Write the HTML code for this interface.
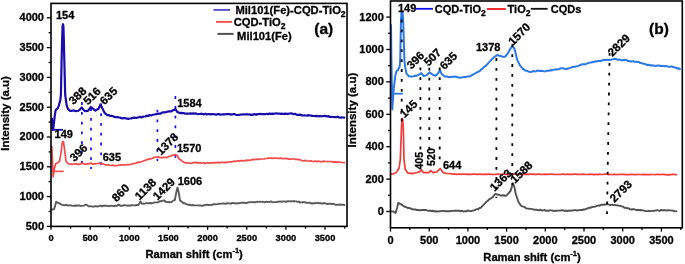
<!DOCTYPE html>
<html><head><meta charset="utf-8"><style>
html,body{margin:0;padding:0;background:#fff;width:685px;height:264px;overflow:hidden}
svg{display:block;will-change:transform}
</style></head><body>
<svg width="685" height="264" viewBox="0 0 685 264" font-family='"Liberation Sans", sans-serif' font-weight="bold" fill="#000">
<rect width="685" height="264" fill="#fff"/>
<line x1="81.90" y1="102.10" x2="81.90" y2="164.00" stroke="#1010f8" stroke-width="1.7" stroke-dasharray="2.8 7.0"/>
<line x1="91.00" y1="108.20" x2="91.00" y2="169.00" stroke="#1010f8" stroke-width="1.7" stroke-dasharray="2.8 7.0"/>
<line x1="101.10" y1="103.40" x2="101.10" y2="166.00" stroke="#1010f8" stroke-width="1.7" stroke-dasharray="2.8 7.0"/>
<line x1="157.40" y1="109.70" x2="157.40" y2="161.00" stroke="#1010f8" stroke-width="1.7" stroke-dasharray="2.8 7.0"/>
<line x1="175.40" y1="96.10" x2="175.40" y2="158.00" stroke="#1010f8" stroke-width="1.7" stroke-dasharray="2.8 7.0"/>
<polyline points="51.4,209.8 52.7,209.4 54.0,209.3 55.2,205.6 56.2,201.8 58.2,203.0 59.9,203.5 61.6,204.7 63.3,205.1 65.0,205.2 66.4,204.9 67.9,205.5 69.3,205.4 70.7,205.3 72.2,205.8 73.6,205.9 75.0,205.5 76.4,205.8 77.8,205.5 79.3,205.5 80.7,205.8 82.1,205.9 83.9,205.6 85.8,204.7 87.3,205.2 88.9,206.4 90.4,206.1 91.8,206.4 93.3,206.7 94.7,206.3 96.2,206.1 97.6,206.6 99.1,206.1 100.5,205.7 101.8,206.4 103.2,205.8 104.5,205.7 105.9,205.6 107.3,205.8 108.6,206.2 110.0,205.9 111.4,205.6 112.8,205.9 114.1,206.0 115.5,205.7 116.9,205.8 118.6,204.6 120.4,205.8 121.9,205.8 123.3,205.3 124.8,205.3 126.2,205.4 127.7,205.7 129.1,205.5 130.6,205.5 132.1,205.2 133.7,205.4 135.2,205.2 136.8,204.9 138.3,205.0 140.5,201.6 141.7,203.6 143.2,203.8 144.6,203.6 146.1,203.1 147.6,203.3 149.0,203.2 150.5,203.0 151.9,203.2 153.3,202.9 154.8,202.4 156.2,202.4 157.9,202.4 159.6,201.3 161.3,201.2 163.8,200.4 166.4,202.1 168.1,202.0 169.8,202.3 171.5,202.1 173.2,200.6 174.9,199.8 176.3,192.2 177.5,187.6 178.7,192.2 180.0,200.4 181.8,201.8 183.5,203.3 184.9,203.2 186.2,204.1 187.6,204.6 188.9,204.7 190.3,205.0 191.7,205.4 193.1,205.0 194.5,205.4 195.8,205.4 197.2,205.4 198.6,205.4 200.0,205.5 201.4,205.7 202.7,205.7 204.1,205.2 205.4,205.2 206.8,204.6 208.1,205.0 209.5,204.9 210.8,205.1 212.2,204.8 213.5,204.2 214.9,204.2 216.2,204.4 217.6,204.1 218.9,203.6 220.3,203.9 221.6,203.6 222.9,203.5 224.2,203.4 225.6,203.9 226.9,203.3 228.2,203.3 229.6,203.4 230.9,203.7 232.2,202.9 233.6,203.2 234.9,203.2 236.2,203.5 237.5,203.3 238.9,203.3 240.2,202.9 241.5,202.6 242.9,202.7 244.2,202.6 245.5,203.0 246.9,203.0 248.2,202.2 249.5,202.2 250.9,202.1 252.2,202.1 253.6,202.2 254.9,202.3 256.2,201.9 257.6,201.6 258.9,201.9 260.2,201.8 261.6,201.9 262.9,201.8 264.2,202.2 265.6,202.0 266.9,201.8 268.2,201.9 269.5,202.0 270.9,201.4 272.2,202.2 273.5,202.1 274.9,202.1 276.2,202.1 277.5,201.7 278.9,201.7 280.2,201.4 281.5,201.9 282.8,201.4 284.2,201.4 285.5,201.8 286.9,201.5 288.2,201.3 289.6,201.4 290.9,201.1 292.3,201.4 293.6,201.1 294.9,201.3 296.2,201.4 297.6,201.8 298.9,201.6 300.2,202.5 301.5,202.4 302.8,202.1 304.2,202.3 305.5,202.5 306.8,202.7 308.1,202.9 309.5,202.6 310.9,203.3 312.3,203.5 313.7,203.1 315.1,203.2 316.5,202.9 317.8,202.9 319.2,203.2 320.6,203.2 322.0,203.7 323.4,203.2 324.8,203.1 326.2,203.6 327.6,204.1 329.0,203.8 330.4,203.6 331.8,204.1 333.2,203.7 334.6,204.3 335.9,204.8 337.3,204.8 338.7,204.7 340.1,204.5 341.5,204.7 342.9,204.6 344.3,205.0" fill="none" stroke="#5a5a5a" stroke-width="1.9" stroke-linejoin="round" stroke-linecap="round" />
<polyline points="51.8,146.5 53.2,177.0 54.3,168.8 55.8,163.5 58.1,162.7 59.6,161.2 61.1,152.1 62.2,143.0 62.8,141.3 63.5,142.0 64.5,149.1 66.0,161.2 68.0,163.5 69.0,163.9 70.5,164.2 71.9,164.0 73.4,164.3 74.9,163.9 76.3,163.9 77.8,164.4 79.2,164.2 80.8,164.1 82.4,163.1 84.0,164.0 85.5,164.2 86.8,164.2 88.1,163.9 89.4,163.6 90.7,163.1 92.8,164.2 94.1,163.8 95.4,163.9 96.7,163.5 98.0,163.5 99.6,163.0 101.1,163.8 102.6,163.8 104.2,164.2 105.7,165.0 107.1,164.8 108.4,164.8 109.8,165.3 111.2,165.5 112.5,165.1 113.9,165.6 115.3,165.7 116.6,165.7 118.0,165.3 119.5,165.1 121.1,164.9 122.6,164.9 124.2,164.8 125.7,165.0 127.0,164.5 128.3,164.6 129.6,164.6 131.0,164.3 132.3,163.8 133.6,163.7 134.9,163.3 136.2,163.2 137.5,162.2 138.8,162.3 140.2,162.2 141.5,161.7 142.8,161.3 144.1,160.7 145.4,160.2 146.7,159.5 148.0,159.6 149.4,158.8 150.7,158.8 152.0,158.5 153.3,157.6 154.8,157.3 156.4,157.0 157.9,156.9 159.4,157.5 161.0,157.6 162.5,157.6 164.0,157.3 165.6,157.3 167.1,157.6 168.6,156.5 170.2,156.4 171.7,155.3 173.2,155.2 174.8,154.6 177.0,155.3 179.4,159.2 180.9,159.9 182.5,161.5 184.0,162.2 185.5,162.9 187.1,162.9 188.6,162.9 190.1,163.3 191.7,163.1 193.4,162.5 195.0,162.6 196.4,162.2 197.7,163.1 199.1,162.9 200.4,162.8 201.8,163.2 203.2,162.8 204.5,163.3 205.9,163.3 207.2,162.8 208.6,163.1 210.0,162.8 211.3,162.8 212.7,162.6 214.0,162.9 215.4,162.5 216.7,162.6 218.1,162.3 219.4,162.9 220.8,162.3 222.1,162.3 223.5,162.4 224.8,162.6 226.2,162.1 227.5,162.4 228.9,162.0 230.2,161.9 231.6,161.8 232.9,161.7 234.2,161.1 235.6,161.3 236.9,161.0 238.2,160.7 239.6,161.3 240.9,160.6 242.3,160.7 243.6,160.8 244.9,160.6 246.3,160.2 247.6,160.3 248.9,160.2 250.3,160.3 251.6,159.9 253.0,159.4 254.4,159.7 255.8,159.3 257.2,159.1 258.6,159.5 260.0,159.1 261.3,159.0 262.7,159.0 264.1,159.0 265.5,158.5 266.9,158.5 268.3,158.2 269.7,158.1 271.1,158.1 272.5,158.3 273.9,158.1 275.4,158.1 276.8,158.1 278.2,158.5 279.6,158.3 281.0,158.1 282.5,158.6 284.0,158.7 285.5,158.2 287.0,158.6 288.5,159.1 290.0,158.8 291.4,159.3 292.8,158.8 294.2,159.0 295.6,159.4 297.0,159.3 298.4,159.6 299.7,159.6 301.1,160.3 302.5,160.6 303.9,160.8 305.3,160.4 306.7,161.0 308.1,161.0 309.5,161.2 310.9,160.8 312.3,161.5 313.7,161.6 315.1,160.9 316.5,161.6 317.8,161.2 319.2,161.3 320.6,161.8 322.0,161.7 323.4,161.1 324.8,161.4 326.2,161.5 327.6,161.6 329.0,161.5 330.4,161.5 331.8,161.7 333.2,162.1 334.6,161.6 335.9,162.1 337.3,162.1 338.7,161.8 340.1,162.2 341.5,162.5 342.9,162.5 344.3,162.6" fill="none" stroke="#f24a4a" stroke-width="1.7" stroke-linejoin="round" stroke-linecap="round" />
<line x1="52.00" y1="171.40" x2="63.80" y2="171.40" stroke="#f24a4a" stroke-width="1.6" />
<polyline points="51.9,118.6 52.4,129.5 53.2,129.5 54.6,117.2 55.4,111.3 56.3,109.3 57.6,108.6 58.9,105.3 60.3,100.0 60.9,95.0 61.6,60.0 62.2,38.0 62.6,26.0 63.0,24.2 63.4,26.0 63.8,38.0 64.3,60.0 65.2,95.0 66.7,105.6 68.2,109.4 70.5,111.0 71.6,111.0 72.9,110.4 74.3,110.6 75.6,111.2 76.9,111.0 78.2,110.7 79.6,109.9 81.6,107.5 83.6,109.9 84.9,111.0 86.2,111.2 88.2,110.6 90.9,107.0 92.9,108.6 95.5,110.6 96.8,109.5 98.2,109.2 100.5,104.4 102.8,109.2 104.8,113.2 106.1,114.0 107.4,115.2 108.7,115.0 110.1,115.9 111.4,115.9 113.2,116.3 115.0,117.2 116.8,117.0 118.5,117.4 119.9,117.5 121.3,118.2 122.8,118.3 124.2,118.0 125.6,118.2 127.0,118.7 128.4,118.9 129.9,118.5 131.3,118.5 132.7,117.8 134.2,117.6 135.6,117.9 137.0,117.8 138.4,117.4 139.8,116.8 141.3,117.4 142.7,116.9 144.1,116.5 145.5,116.5 146.9,115.6 148.3,116.0 149.8,115.0 151.2,115.4 152.6,114.8 154.3,114.5 156.0,114.1 157.7,114.0 159.1,113.7 160.4,113.7 161.8,112.8 163.1,112.3 164.5,112.3 165.9,112.1 167.3,111.7 168.6,111.4 170.0,111.3 171.4,111.4 173.1,110.1 174.8,109.7 175.3,108.8 177.3,111.9 179.9,113.1 181.3,112.9 182.6,113.1 184.0,113.2 185.3,113.7 186.7,113.6 188.0,113.5 189.4,113.7 190.7,113.4 192.0,113.6 193.3,113.4 194.7,113.6 196.0,113.4 197.3,114.1 198.7,114.0 200.0,114.0 201.4,113.7 202.7,114.0 204.1,114.4 205.4,113.7 206.8,114.4 208.1,114.0 209.5,114.1 210.8,114.4 212.2,114.0 213.5,114.2 214.9,114.3 216.2,114.6 217.6,114.2 218.9,114.1 220.3,114.6 221.6,114.5 222.9,114.4 224.2,114.3 225.6,114.2 226.9,114.0 228.2,114.1 229.6,114.1 230.9,114.7 232.2,114.3 233.6,114.2 234.9,114.2 236.2,114.9 237.5,115.0 238.9,114.8 240.2,114.7 241.5,114.5 242.9,114.4 244.2,114.4 245.5,114.5 246.9,114.2 248.2,114.5 249.5,114.3 250.9,114.9 252.2,114.9 253.6,114.4 254.9,114.1 256.2,114.8 257.6,114.1 258.9,114.2 260.2,113.8 261.6,114.1 262.9,114.2 264.2,114.1 265.6,114.1 266.9,113.8 268.2,114.1 269.5,113.6 270.9,113.8 272.2,113.6 273.5,113.8 274.9,113.5 276.2,113.4 277.5,113.6 278.9,113.5 280.2,113.8 281.5,113.7 282.8,113.9 284.2,113.8 285.5,113.6 286.9,113.8 288.2,113.9 289.6,113.5 290.9,113.4 292.3,113.6 293.6,114.3 295.0,113.8 296.3,114.6 297.7,114.8 299.0,114.9 300.4,114.6 301.7,115.3 303.1,115.5 304.4,115.3 305.8,115.5 307.2,115.6 308.5,115.1 309.9,115.5 311.2,115.6 312.6,115.9 314.0,116.0 315.3,116.1 316.7,115.9 318.0,116.3 319.4,116.0 320.7,116.2 322.0,116.3 323.3,116.0 324.6,115.9 326.0,116.1 327.3,116.4 328.6,116.2 329.9,117.0 331.2,116.8 332.5,117.0 333.8,117.0 335.1,117.2 336.4,117.1 337.7,116.7 339.1,117.5 340.4,117.6 341.7,117.4 343.0,117.5 344.3,117.6" fill="none" stroke="#1a0ca8" stroke-width="2.2" stroke-linejoin="round" stroke-linecap="round" />
<line x1="52.00" y1="129.80" x2="63.00" y2="129.80" stroke="#1a0ca8" stroke-width="1.8" />
<polyline points="390.3,211.1 391.8,211.4 393.3,211.5 395.6,213.0 397.1,207.7 398.3,202.9 400.1,203.9 401.6,204.5 403.2,205.9 404.7,206.8 406.2,207.1 407.7,208.0 409.2,208.0 410.8,208.5 412.3,209.3 413.8,209.5 415.3,209.4 416.8,210.0 418.3,210.0 419.8,210.4 421.3,210.0 422.9,209.9 424.4,210.0 425.9,210.0 427.2,210.4 428.5,210.7 429.8,210.7 431.1,211.0 432.4,210.7 433.7,211.0 435.0,211.5 436.4,211.2 437.7,211.6 439.1,211.2 440.4,211.4 441.8,210.9 443.2,210.9 444.5,211.0 445.9,211.3 447.2,211.3 448.6,211.1 450.1,211.2 451.6,210.8 453.2,210.9 454.7,210.8 456.2,210.8 457.7,210.8 459.1,210.6 460.6,211.3 462.1,210.7 463.5,211.5 465.0,211.1 466.3,211.4 467.6,210.5 468.9,210.8 470.2,211.0 471.5,211.1 472.8,210.5 474.1,210.5 475.5,209.7 476.8,209.1 478.2,209.2 479.5,208.0 480.9,207.7 486.5,201.7 487.8,200.8 489.1,199.4 490.5,198.7 491.8,197.7 493.1,196.8 494.5,194.8 495.8,193.8 497.1,194.5 498.5,194.7 499.8,195.1 501.1,195.5 502.4,195.5 503.8,195.2 505.1,195.9 506.4,195.6 510.4,191.1 513.0,183.2 514.4,187.1 515.7,193.8 518.4,201.7 521.0,205.7 522.3,206.4 523.6,206.6 525.0,207.3 526.3,208.4 527.6,208.6 529.0,208.8 530.3,208.9 531.6,208.9 533.0,209.3 534.3,209.7 536.0,209.7 537.7,210.0 539.0,210.4 540.4,209.7 541.7,210.4 543.0,210.5 544.4,209.9 545.7,210.7 547.0,210.6 548.3,210.8 549.7,210.3 551.0,210.4 552.3,210.5 553.7,211.1 555.0,210.7 556.4,210.8 557.8,210.6 559.1,210.6 560.5,210.5 561.9,210.3 563.3,210.3 564.7,211.0 566.1,210.5 567.4,211.1 568.8,210.5 570.2,210.7 571.5,210.4 572.9,210.5 574.2,210.1 575.5,210.1 576.9,210.5 578.2,210.3 579.5,210.1 580.8,209.9 582.2,210.0 583.5,209.5 584.9,209.5 586.2,208.8 587.6,208.6 588.9,207.6 590.3,207.9 591.6,207.2 593.0,206.9 594.3,206.8 595.7,206.4 597.0,205.8 598.4,205.3 599.7,205.8 601.1,204.8 602.4,204.8 603.8,204.7 605.2,204.5 606.7,204.3 608.1,204.4 609.5,204.8 610.8,205.1 612.2,204.6 613.5,205.1 614.9,204.9 616.2,205.3 617.6,205.4 619.0,205.7 620.3,205.9 621.7,206.3 623.0,206.7 624.4,207.8 625.7,207.8 627.1,208.2 628.5,208.2 629.8,209.1 631.2,209.5 632.5,209.2 633.9,209.2 635.2,209.6 636.6,210.1 637.9,209.8 639.3,210.2 640.6,210.0 641.9,210.3 643.2,210.4 644.6,210.8 645.9,211.1 647.2,211.1 648.6,210.9 649.9,211.1 651.3,210.9 652.7,210.9 654.0,210.7 655.4,210.6 656.8,210.3 658.2,210.4 659.6,210.9 661.0,210.0 662.3,210.3 663.7,210.3 665.1,210.1 666.5,210.6 667.9,210.1 669.3,210.3 670.8,210.4 672.2,210.6 673.6,210.8 675.0,211.4 676.4,211.1" fill="none" stroke="#525252" stroke-width="1.9" stroke-linejoin="round" stroke-linecap="round" />
<polyline points="390.5,174.1 392.4,174.0 394.2,173.6 396.6,172.1 399.1,168.0 400.3,159.3 401.5,127.3 402.1,118.5 402.6,118.5 403.3,127.3 404.0,159.3 405.2,169.2 407.7,172.9 409.3,173.3 411.0,173.2 412.6,173.6 414.5,173.0 416.3,172.7 417.7,172.3 419.0,171.9 420.4,171.2 421.5,170.0 423.5,172.7 424.8,172.7 426.1,172.7 427.4,172.5 428.8,172.7 430.8,170.6 432.9,172.7 434.3,172.3 435.7,172.2 437.1,171.7 440.2,168.5 443.3,172.7 444.7,173.0 446.1,173.3 447.5,173.5 448.9,173.5 450.3,173.6 451.7,174.0 453.0,173.9 454.3,174.1 455.6,174.1 456.9,174.3 458.2,174.2 459.5,174.2 460.9,174.3 462.2,174.2 463.5,174.2 464.8,174.0 466.1,174.3 467.4,174.2 468.7,174.4 470.0,174.3 471.3,174.4 472.6,174.2 473.9,174.2 475.2,174.2 476.5,174.4 477.8,174.4 479.1,174.1 480.4,174.1 481.7,174.3 483.0,174.3 484.3,174.3 485.7,174.2 487.0,174.3 488.3,174.1 489.6,174.2 490.9,174.3 492.2,174.5 493.5,174.4 494.8,174.5 496.1,174.3 497.4,174.2 498.7,174.2 500.0,174.5 501.3,174.4 502.6,174.2 503.9,174.1 505.2,174.3 506.5,174.4 507.8,174.3 509.1,174.2 510.4,174.4 511.7,174.5 513.0,174.2 514.3,174.1 515.7,174.2 517.0,174.3 518.3,174.4 519.6,174.2 520.9,174.4 522.2,174.4 523.5,174.3 524.8,174.2 526.1,174.5 527.4,174.2 528.7,174.4 530.0,174.2 531.3,174.2 532.6,174.4 533.9,174.2 535.2,174.5 536.5,174.3 537.8,174.2 539.1,174.2 540.4,174.3 541.7,174.4 543.0,174.5 544.3,174.2 545.7,174.3 547.0,174.2 548.3,174.5 549.6,174.2 550.9,174.1 552.2,174.1 553.5,174.3 554.8,174.5 556.1,174.5 557.4,174.4 558.7,174.5 560.0,174.3 561.3,174.5 562.6,174.2 563.9,174.2 565.2,174.5 566.5,174.4 567.8,174.1 569.2,174.4 570.5,174.3 571.8,174.3 573.1,174.3 574.4,174.2 575.7,174.1 577.0,174.3 578.3,174.3 579.6,174.5 580.9,174.2 582.2,174.5 583.5,174.2 584.8,174.3 586.2,174.5 587.5,174.5 588.8,174.3 590.1,174.2 591.4,174.4 592.7,174.3 594.0,174.6 595.3,174.3 596.6,174.3 597.9,174.6 599.2,174.2 600.5,174.4 601.9,174.5 603.2,174.5 604.5,174.2 605.8,174.2 607.1,174.2 608.4,174.6 609.7,174.3 611.0,174.5 612.3,174.6 613.6,174.4 614.9,174.4 616.2,174.6 617.5,174.5 618.9,174.4 620.2,174.5 621.5,174.4 622.8,174.4 624.1,174.3 625.4,174.6 626.7,174.6 628.0,174.5 629.3,174.7 630.6,174.3 631.9,174.4 633.2,174.5 634.5,174.7 635.9,174.7 637.2,174.5 638.5,174.4 639.8,174.5 641.1,174.5 642.4,174.7 643.7,174.4 645.0,174.6 646.3,174.6 647.6,174.7 648.9,174.6 650.2,174.6 651.6,174.5 652.9,174.5 654.2,174.5 655.5,174.7 656.8,174.4 658.1,174.4 659.4,174.7 660.7,174.5 662.0,174.4 663.3,174.4 664.6,174.6 665.9,174.5 667.2,174.8 668.6,174.7 669.9,174.8 671.2,174.5 672.5,174.4 673.8,174.4 675.1,174.6 676.4,174.6" fill="none" stroke="#f23a3a" stroke-width="1.7" stroke-linejoin="round" stroke-linecap="round" />
<polyline points="391.0,25.0 391.4,60.0 392.3,109.5 393.7,89.0 395.4,75.3 396.6,71.0 397.9,70.2 399.6,66.8 400.2,60.0 400.6,40.0 401.0,20.0 401.5,11.8 402.5,11.8 403.2,20.0 403.8,40.0 404.4,60.0 405.1,66.8 406.5,73.6 409.0,76.2 410.4,76.5 411.8,76.5 413.5,76.2 415.2,75.7 416.9,75.7 418.3,74.8 419.8,74.1 421.2,73.1 423.7,76.0 425.4,75.6 427.1,74.8 429.7,72.3 431.0,73.5 432.3,74.3 434.0,75.3 435.7,75.7 438.2,73.1 439.9,70.2 441.7,74.1 443.4,75.5 445.1,76.6 446.8,76.4 448.5,77.2 450.2,77.1 451.9,76.7 453.6,76.8 455.3,76.6 457.0,76.9 458.7,77.6 460.4,77.8 461.7,77.4 463.0,77.2 464.3,77.0 465.6,77.1 467.3,76.4 469.0,76.6 470.7,75.8 472.4,75.0 474.1,73.9 475.8,73.2 477.5,72.0 479.2,71.4 480.9,69.8 482.6,68.4 484.3,66.8 486.0,65.6 491.1,60.1 494.5,56.7 495.8,56.1 497.1,55.0 499.6,55.7 501.3,56.3 503.0,56.7 504.3,56.9 505.6,56.2 508.1,52.8 509.5,50.2 510.7,48.3 511.7,47.3 512.6,47.0 513.5,47.4 514.4,48.6 515.4,52.0 517.0,59.4 520.1,65.6 522.7,68.6 525.3,70.6 526.6,70.7 528.0,71.5 529.3,71.7 530.6,71.9 532.0,71.7 533.3,71.0 534.6,71.3 535.9,71.4 537.3,70.6 538.6,70.8 539.9,71.0 541.2,70.7 542.6,70.9 543.9,71.2 545.2,71.4 546.6,70.9 547.9,70.6 549.2,70.8 550.5,70.1 551.9,70.4 553.2,69.9 554.5,69.6 555.8,69.2 557.2,69.4 558.5,69.3 559.8,68.6 561.1,68.1 562.5,68.5 563.8,68.3 565.1,68.9 566.4,69.2 567.7,68.5 569.1,68.2 570.4,67.9 571.7,67.3 573.0,67.0 574.4,66.7 575.7,66.6 577.0,66.3 578.4,65.9 579.7,65.3 581.0,64.8 582.3,64.3 583.7,64.3 585.0,64.3 586.3,63.9 587.6,63.2 588.9,62.9 590.3,62.4 591.6,62.6 592.9,61.9 594.2,61.8 595.6,61.2 596.9,61.4 598.6,60.9 600.3,61.1 601.6,60.5 603.0,60.2 604.3,59.7 605.6,60.0 607.0,59.6 608.3,60.1 609.6,59.6 610.9,59.9 612.3,59.4 613.6,59.1 614.9,59.1 616.2,59.1 617.6,59.8 618.9,59.5 620.2,59.8 621.5,60.4 622.9,60.1 624.2,59.7 625.5,59.9 626.9,60.3 628.2,61.1 629.5,61.1 630.8,61.7 632.1,61.3 633.5,61.3 634.8,61.9 636.1,61.6 637.4,62.0 638.7,61.9 640.1,63.1 641.4,63.0 642.8,63.7 644.1,63.8 645.4,64.1 646.7,64.9 648.1,64.8 649.4,64.9 650.7,65.6 652.0,65.2 653.3,65.6 654.7,65.7 656.0,66.0 657.3,65.6 658.6,65.4 660.0,65.9 661.3,65.8 662.7,66.1 664.0,66.2 665.3,66.0 666.6,66.2 668.0,66.5 669.3,66.9 670.6,66.6 671.9,66.5 673.2,67.0 674.6,67.5 675.9,67.5 677.2,68.5 678.6,68.3 679.9,69.1" fill="none" stroke="#2a78e6" stroke-width="2.0" stroke-linejoin="round" stroke-linecap="round" />
<line x1="390.80" y1="93.70" x2="402.90" y2="93.70" stroke="#2a78e6" stroke-width="1.8" />
<line x1="401.70" y1="19.60" x2="401.70" y2="123.00" stroke="#000" stroke-width="1.8" stroke-dasharray="2.8 7.1"/>
<line x1="420.40" y1="67.40" x2="420.40" y2="153.00" stroke="#000" stroke-width="1.8" stroke-dasharray="2.8 7.1"/>
<line x1="429.30" y1="67.80" x2="429.30" y2="151.00" stroke="#000" stroke-width="1.8" stroke-dasharray="2.8 7.1"/>
<line x1="439.70" y1="67.40" x2="439.70" y2="162.00" stroke="#000" stroke-width="1.8" stroke-dasharray="2.8 7.1"/>
<line x1="496.40" y1="58.10" x2="496.40" y2="198.00" stroke="#000" stroke-width="1.8" stroke-dasharray="2.8 7.1"/>
<line x1="512.30" y1="44.30" x2="512.30" y2="185.00" stroke="#000" stroke-width="1.8" stroke-dasharray="2.8 7.1"/>
<line x1="609.60" y1="53.00" x2="607.00" y2="214.00" stroke="#000" stroke-width="1.8" stroke-dasharray="2.8 7.1"/>
<rect x="51.00" y="3.40" width="296.00" height="223.00" fill="none" stroke="#000" stroke-width="1.6"/>
<rect x="390.50" y="1.00" width="291.80" height="226.80" fill="none" stroke="#000" stroke-width="1.6"/>
<line x1="46.80" y1="226.40" x2="51.00" y2="226.40" stroke="#000" stroke-width="1.3" />
<text x="44.00" y="229.70" font-size="11" text-anchor="end" stroke="#000" stroke-width="0.3" >500</text>
<line x1="48.60" y1="211.50" x2="51.00" y2="211.50" stroke="#000" stroke-width="1.3" />
<line x1="46.80" y1="196.60" x2="51.00" y2="196.60" stroke="#000" stroke-width="1.3" />
<text x="44.00" y="199.90" font-size="11" text-anchor="end" stroke="#000" stroke-width="0.3" >1000</text>
<line x1="48.60" y1="181.70" x2="51.00" y2="181.70" stroke="#000" stroke-width="1.3" />
<line x1="46.80" y1="166.80" x2="51.00" y2="166.80" stroke="#000" stroke-width="1.3" />
<text x="44.00" y="170.10" font-size="11" text-anchor="end" stroke="#000" stroke-width="0.3" >1500</text>
<line x1="48.60" y1="151.90" x2="51.00" y2="151.90" stroke="#000" stroke-width="1.3" />
<line x1="46.80" y1="137.00" x2="51.00" y2="137.00" stroke="#000" stroke-width="1.3" />
<text x="44.00" y="140.30" font-size="11" text-anchor="end" stroke="#000" stroke-width="0.3" >2000</text>
<line x1="48.60" y1="122.10" x2="51.00" y2="122.10" stroke="#000" stroke-width="1.3" />
<line x1="46.80" y1="107.20" x2="51.00" y2="107.20" stroke="#000" stroke-width="1.3" />
<text x="44.00" y="110.50" font-size="11" text-anchor="end" stroke="#000" stroke-width="0.3" >2500</text>
<line x1="48.60" y1="92.30" x2="51.00" y2="92.30" stroke="#000" stroke-width="1.3" />
<line x1="46.80" y1="77.40" x2="51.00" y2="77.40" stroke="#000" stroke-width="1.3" />
<text x="44.00" y="80.70" font-size="11" text-anchor="end" stroke="#000" stroke-width="0.3" >3000</text>
<line x1="48.60" y1="62.50" x2="51.00" y2="62.50" stroke="#000" stroke-width="1.3" />
<line x1="46.80" y1="47.60" x2="51.00" y2="47.60" stroke="#000" stroke-width="1.3" />
<text x="44.00" y="50.90" font-size="11" text-anchor="end" stroke="#000" stroke-width="0.3" >3500</text>
<line x1="48.60" y1="32.70" x2="51.00" y2="32.70" stroke="#000" stroke-width="1.3" />
<line x1="46.80" y1="17.80" x2="51.00" y2="17.80" stroke="#000" stroke-width="1.3" />
<text x="44.00" y="21.10" font-size="11" text-anchor="end" stroke="#000" stroke-width="0.3" >4000</text>
<line x1="51.00" y1="226.40" x2="51.00" y2="229.80" stroke="#000" stroke-width="1.3" />
<text x="51.00" y="240.50" font-size="9.3" text-anchor="middle" stroke="#000" stroke-width="0.3" >0</text>
<line x1="70.58" y1="226.40" x2="70.58" y2="228.60" stroke="#000" stroke-width="1.3" />
<line x1="90.15" y1="226.40" x2="90.15" y2="229.80" stroke="#000" stroke-width="1.3" />
<text x="90.15" y="240.50" font-size="9.3" text-anchor="middle" stroke="#000" stroke-width="0.3" >500</text>
<line x1="109.72" y1="226.40" x2="109.72" y2="228.60" stroke="#000" stroke-width="1.3" />
<line x1="129.30" y1="226.40" x2="129.30" y2="229.80" stroke="#000" stroke-width="1.3" />
<text x="129.30" y="240.50" font-size="9.3" text-anchor="middle" stroke="#000" stroke-width="0.3" >1000</text>
<line x1="148.88" y1="226.40" x2="148.88" y2="228.60" stroke="#000" stroke-width="1.3" />
<line x1="168.45" y1="226.40" x2="168.45" y2="229.80" stroke="#000" stroke-width="1.3" />
<text x="168.45" y="240.50" font-size="9.3" text-anchor="middle" stroke="#000" stroke-width="0.3" >1500</text>
<line x1="188.02" y1="226.40" x2="188.02" y2="228.60" stroke="#000" stroke-width="1.3" />
<line x1="207.60" y1="226.40" x2="207.60" y2="229.80" stroke="#000" stroke-width="1.3" />
<text x="207.60" y="240.50" font-size="9.3" text-anchor="middle" stroke="#000" stroke-width="0.3" >2000</text>
<line x1="227.17" y1="226.40" x2="227.17" y2="228.60" stroke="#000" stroke-width="1.3" />
<line x1="246.75" y1="226.40" x2="246.75" y2="229.80" stroke="#000" stroke-width="1.3" />
<text x="246.75" y="240.50" font-size="9.3" text-anchor="middle" stroke="#000" stroke-width="0.3" >2500</text>
<line x1="266.32" y1="226.40" x2="266.32" y2="228.60" stroke="#000" stroke-width="1.3" />
<line x1="285.90" y1="226.40" x2="285.90" y2="229.80" stroke="#000" stroke-width="1.3" />
<text x="285.90" y="240.50" font-size="9.3" text-anchor="middle" stroke="#000" stroke-width="0.3" >3000</text>
<line x1="305.48" y1="226.40" x2="305.48" y2="228.60" stroke="#000" stroke-width="1.3" />
<line x1="325.05" y1="226.40" x2="325.05" y2="229.80" stroke="#000" stroke-width="1.3" />
<text x="325.05" y="240.50" font-size="9.3" text-anchor="middle" stroke="#000" stroke-width="0.3" >3500</text>
<line x1="344.62" y1="226.40" x2="344.62" y2="228.60" stroke="#000" stroke-width="1.3" />
<line x1="386.30" y1="211.50" x2="390.50" y2="211.50" stroke="#000" stroke-width="1.3" />
<text x="383.80" y="214.90" font-size="11" text-anchor="end" stroke="#000" stroke-width="0.3" >0</text>
<line x1="388.10" y1="195.30" x2="390.50" y2="195.30" stroke="#000" stroke-width="1.3" />
<line x1="386.30" y1="179.10" x2="390.50" y2="179.10" stroke="#000" stroke-width="1.3" />
<text x="383.80" y="182.50" font-size="11" text-anchor="end" stroke="#000" stroke-width="0.3" >200</text>
<line x1="388.10" y1="162.90" x2="390.50" y2="162.90" stroke="#000" stroke-width="1.3" />
<line x1="386.30" y1="146.70" x2="390.50" y2="146.70" stroke="#000" stroke-width="1.3" />
<text x="383.80" y="150.10" font-size="11" text-anchor="end" stroke="#000" stroke-width="0.3" >400</text>
<line x1="388.10" y1="130.50" x2="390.50" y2="130.50" stroke="#000" stroke-width="1.3" />
<line x1="386.30" y1="114.30" x2="390.50" y2="114.30" stroke="#000" stroke-width="1.3" />
<text x="383.80" y="117.70" font-size="11" text-anchor="end" stroke="#000" stroke-width="0.3" >600</text>
<line x1="388.10" y1="98.10" x2="390.50" y2="98.10" stroke="#000" stroke-width="1.3" />
<line x1="386.30" y1="81.90" x2="390.50" y2="81.90" stroke="#000" stroke-width="1.3" />
<text x="383.80" y="85.30" font-size="11" text-anchor="end" stroke="#000" stroke-width="0.3" >800</text>
<line x1="388.10" y1="65.70" x2="390.50" y2="65.70" stroke="#000" stroke-width="1.3" />
<line x1="386.30" y1="49.50" x2="390.50" y2="49.50" stroke="#000" stroke-width="1.3" />
<text x="383.80" y="52.90" font-size="11" text-anchor="end" stroke="#000" stroke-width="0.3" >1000</text>
<line x1="388.10" y1="33.30" x2="390.50" y2="33.30" stroke="#000" stroke-width="1.3" />
<line x1="386.30" y1="17.10" x2="390.50" y2="17.10" stroke="#000" stroke-width="1.3" />
<text x="383.80" y="20.50" font-size="11" text-anchor="end" stroke="#000" stroke-width="0.3" >1200</text>
<line x1="390.50" y1="227.80" x2="390.50" y2="231.60" stroke="#000" stroke-width="1.3" />
<text x="390.50" y="243.80" font-size="11" text-anchor="middle" stroke="#000" stroke-width="0.3" >0</text>
<line x1="409.85" y1="227.80" x2="409.85" y2="230.00" stroke="#000" stroke-width="1.3" />
<line x1="429.20" y1="227.80" x2="429.20" y2="231.60" stroke="#000" stroke-width="1.3" />
<text x="429.20" y="243.80" font-size="11" text-anchor="middle" stroke="#000" stroke-width="0.3" >500</text>
<line x1="448.55" y1="227.80" x2="448.55" y2="230.00" stroke="#000" stroke-width="1.3" />
<line x1="467.90" y1="227.80" x2="467.90" y2="231.60" stroke="#000" stroke-width="1.3" />
<text x="467.90" y="243.80" font-size="11" text-anchor="middle" stroke="#000" stroke-width="0.3" >1000</text>
<line x1="487.25" y1="227.80" x2="487.25" y2="230.00" stroke="#000" stroke-width="1.3" />
<line x1="506.60" y1="227.80" x2="506.60" y2="231.60" stroke="#000" stroke-width="1.3" />
<text x="506.60" y="243.80" font-size="11" text-anchor="middle" stroke="#000" stroke-width="0.3" >1500</text>
<line x1="525.95" y1="227.80" x2="525.95" y2="230.00" stroke="#000" stroke-width="1.3" />
<line x1="545.30" y1="227.80" x2="545.30" y2="231.60" stroke="#000" stroke-width="1.3" />
<text x="545.30" y="243.80" font-size="11" text-anchor="middle" stroke="#000" stroke-width="0.3" >2000</text>
<line x1="564.65" y1="227.80" x2="564.65" y2="230.00" stroke="#000" stroke-width="1.3" />
<line x1="584.00" y1="227.80" x2="584.00" y2="231.60" stroke="#000" stroke-width="1.3" />
<text x="584.00" y="243.80" font-size="11" text-anchor="middle" stroke="#000" stroke-width="0.3" >2500</text>
<line x1="603.35" y1="227.80" x2="603.35" y2="230.00" stroke="#000" stroke-width="1.3" />
<line x1="622.70" y1="227.80" x2="622.70" y2="231.60" stroke="#000" stroke-width="1.3" />
<text x="622.70" y="243.80" font-size="11" text-anchor="middle" stroke="#000" stroke-width="0.3" >3000</text>
<line x1="642.05" y1="227.80" x2="642.05" y2="230.00" stroke="#000" stroke-width="1.3" />
<line x1="661.40" y1="227.80" x2="661.40" y2="231.60" stroke="#000" stroke-width="1.3" />
<text x="661.40" y="243.80" font-size="11" text-anchor="middle" stroke="#000" stroke-width="0.3" >3500</text>
<line x1="680.75" y1="227.80" x2="680.75" y2="230.00" stroke="#000" stroke-width="1.3" />
<text x="9.20" y="150.80" font-size="11.5" text-anchor="start" stroke="#000" stroke-width="0.3" transform="rotate(-90 9.20 150.80)" >Intensity (a.u)</text>
<text x="356.20" y="147.50" font-size="11.5" text-anchor="start" stroke="#000" stroke-width="0.3" transform="rotate(-90 356.20 147.50)" >Intensity (a.u)</text>
<text x="145.40" y="257.70" font-size="11.2" text-anchor="start" stroke="#000" stroke-width="0.3" >Raman shift (cm<tspan dy="-4.5" font-size="7.5">-1</tspan><tspan dy="4.5">)</tspan></text>
<text x="483.30" y="260.60" font-size="11.2" text-anchor="start" stroke="#000" stroke-width="0.3" >Raman shift (cm<tspan dy="-4.5" font-size="7.5">-1</tspan><tspan dy="4.5">)</tspan></text>
<text x="55.90" y="19.20" font-size="11" text-anchor="start" stroke="#000" stroke-width="0.3" >154</text>
<text x="54.60" y="137.50" font-size="11" text-anchor="start" stroke="#000" stroke-width="0.3" >149</text>
<text x="177.20" y="107.20" font-size="11" text-anchor="start" stroke="#000" stroke-width="0.3" >1584</text>
<text x="102.70" y="160.70" font-size="11" text-anchor="start" stroke="#000" stroke-width="0.3" >635</text>
<text x="177.00" y="151.80" font-size="11" text-anchor="start" stroke="#000" stroke-width="0.3" >1570</text>
<text x="177.70" y="184.60" font-size="11" text-anchor="start" stroke="#000" stroke-width="0.3" >1606</text>
<text x="73.60" y="105.20" font-size="11.5" text-anchor="start" stroke="#000" stroke-width="0.3" transform="rotate(-45 73.60 105.20)" >388</text>
<text x="87.90" y="105.60" font-size="11.5" text-anchor="start" stroke="#000" stroke-width="0.3" transform="rotate(-45 87.90 105.60)" >516</text>
<text x="104.60" y="105.40" font-size="11.5" text-anchor="start" stroke="#000" stroke-width="0.3" transform="rotate(-45 104.60 105.40)" >635</text>
<text x="74.60" y="162.20" font-size="11.5" text-anchor="start" stroke="#000" stroke-width="0.3" transform="rotate(-45 74.60 162.20)" >396</text>
<text x="161.00" y="155.80" font-size="11.5" text-anchor="start" stroke="#000" stroke-width="0.3" transform="rotate(-45 161.00 155.80)" >1378</text>
<text x="116.60" y="202.40" font-size="11.5" text-anchor="start" stroke="#000" stroke-width="0.3" transform="rotate(-45 116.60 202.40)" >860</text>
<text x="139.40" y="200.80" font-size="11.5" text-anchor="start" stroke="#000" stroke-width="0.3" transform="rotate(-45 139.40 200.80)" >1138</text>
<text x="157.60" y="200.80" font-size="11.5" text-anchor="start" stroke="#000" stroke-width="0.3" transform="rotate(-45 157.60 200.80)" >1429</text>
<text x="398.00" y="12.10" font-size="11" text-anchor="start" stroke="#000" stroke-width="0.3" >149</text>
<text x="476.00" y="51.10" font-size="11" text-anchor="start" stroke="#000" stroke-width="0.3" >1378</text>
<text x="442.90" y="169.40" font-size="11" text-anchor="start" stroke="#000" stroke-width="0.3" >644</text>
<text x="411.40" y="69.70" font-size="11.5" text-anchor="start" stroke="#000" stroke-width="0.3" transform="rotate(-45 411.40 69.70)" >396</text>
<text x="428.40" y="66.80" font-size="11.5" text-anchor="start" stroke="#000" stroke-width="0.3" transform="rotate(-45 428.40 66.80)" >507</text>
<text x="444.40" y="70.20" font-size="11.5" text-anchor="start" stroke="#000" stroke-width="0.3" transform="rotate(-45 444.40 70.20)" >635</text>
<text x="512.90" y="45.90" font-size="11.5" text-anchor="start" stroke="#000" stroke-width="0.3" transform="rotate(-45 512.90 45.90)" >1570</text>
<text x="612.60" y="57.10" font-size="11.5" text-anchor="start" stroke="#000" stroke-width="0.3" transform="rotate(-45 612.60 57.10)" >2829</text>
<text x="404.60" y="118.40" font-size="11.5" text-anchor="start" stroke="#000" stroke-width="0.3" transform="rotate(-45 404.60 118.40)" >145</text>
<text x="494.60" y="192.10" font-size="11.5" text-anchor="start" stroke="#000" stroke-width="0.3" transform="rotate(-45 494.60 192.10)" >1363</text>
<text x="515.10" y="184.10" font-size="11.5" text-anchor="start" stroke="#000" stroke-width="0.3" transform="rotate(-45 515.10 184.10)" >1588</text>
<text x="614.60" y="203.00" font-size="11.5" text-anchor="start" stroke="#000" stroke-width="0.3" transform="rotate(-45 614.60 203.00)" >2793</text>
<text x="422.90" y="169.60" font-size="10.6" text-anchor="start" stroke="#000" stroke-width="0.3" transform="rotate(-90 422.90 169.60)" >405</text>
<text x="435.00" y="165.90" font-size="10.6" text-anchor="start" stroke="#000" stroke-width="0.3" transform="rotate(-90 435.00 165.90)" >520</text>
<line x1="213.40" y1="9.90" x2="230.10" y2="9.90" stroke="#5252c8" stroke-width="1.9" />
<text x="235.40" y="13.60" font-size="11.2" text-anchor="start" stroke="#000" stroke-width="0.3" >Mil101(Fe)-CQD-TiO<tspan dy="3.2" font-size="8.6">2</tspan></text>
<line x1="216.00" y1="21.90" x2="232.10" y2="21.90" stroke="#f25050" stroke-width="1.9" />
<text x="233.70" y="25.60" font-size="11.2" text-anchor="start" stroke="#000" stroke-width="0.3" >CQD-TiO<tspan dy="3.2" font-size="8.6">2</tspan></text>
<line x1="217.50" y1="33.90" x2="233.60" y2="33.90" stroke="#505050" stroke-width="2.0" />
<text x="237.10" y="40.00" font-size="11.2" text-anchor="start" stroke="#000" stroke-width="0.3" >Mil101(Fe)</text>
<text x="314.30" y="34.00" font-size="15.5" text-anchor="start" stroke="#000" stroke-width="0.3" >(a)</text>
<line x1="415.40" y1="8.80" x2="432.90" y2="8.80" stroke="#0c0cf0" stroke-width="1.8" />
<text x="434.80" y="12.80" font-size="11" text-anchor="start" stroke="#000" stroke-width="0.3" >CQD-TiO<tspan dy="3.2" font-size="8.6">2</tspan></text>
<line x1="487.00" y1="9.00" x2="505.80" y2="9.00" stroke="#f01818" stroke-width="1.8" />
<text x="507.60" y="13.10" font-size="11" text-anchor="start" stroke="#000" stroke-width="0.3" >TiO<tspan dy="3.2" font-size="8.6">2</tspan></text>
<line x1="530.70" y1="8.80" x2="547.60" y2="8.80" stroke="#111" stroke-width="1.8" />
<text x="550.70" y="13.00" font-size="11" text-anchor="start" stroke="#000" stroke-width="0.3" >CQDs</text>
<text x="649.00" y="34.00" font-size="15.5" text-anchor="start" stroke="#000" stroke-width="0.3" >(b)</text>
</svg>
</body></html>
